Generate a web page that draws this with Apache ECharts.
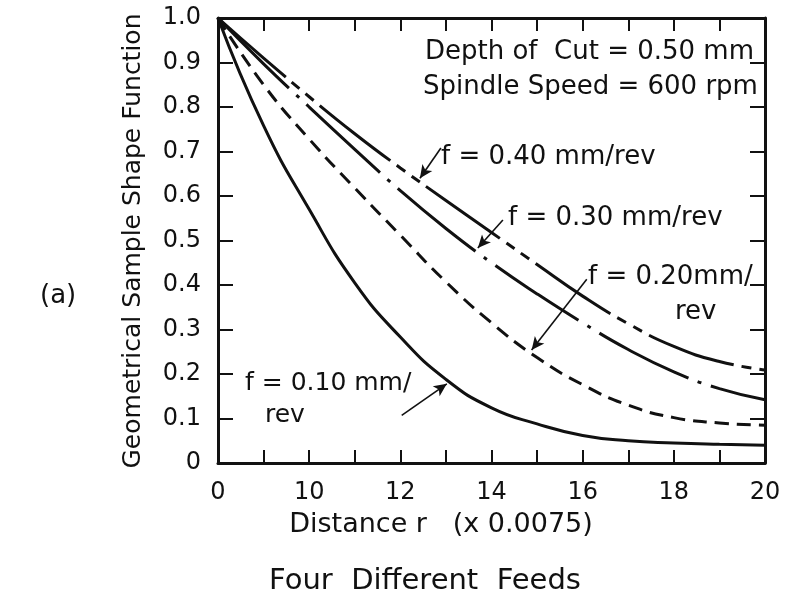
<!DOCTYPE html>
<html>
<head>
<meta charset="utf-8">
<script src="https://cdn.jsdelivr.net/npm/echarts@6/dist/echarts.min.js"></script>
<style>
  html, body { margin: 0; padding: 0; background: #fff; }
  #chart { width: 789px; height: 599px; }
</style>
</head>
<body>
<div id="chart"></div>
<script>
// x positions in tick units (one unit per tick on the axis)
var xPts = [0, 1, 2, 3, 4, 5, 6, 7, 8, 9, 10, 11, 12];
var xTickLabels = ['0', '', '10', '', '12', '', '14', '', '16', '', '18', '', '20'];
var yTickLabels = ['0', '0.1', '0.2', '0.3', '0.4', '0.5', '0.6', '0.7', '0.8', '0.9', '1.0'];

var f10 = [1.0, 0.758, 0.57, 0.405, 0.283, 0.188, 0.124, 0.088, 0.062, 0.05, 0.045, 0.042, 0.04];
var f20 = [1.0, 0.85, 0.728, 0.618, 0.512, 0.407, 0.315, 0.237, 0.176, 0.13, 0.102, 0.09, 0.085];
var f30 = [1.0, 0.897, 0.80, 0.705, 0.612, 0.527, 0.45, 0.38, 0.315, 0.255, 0.205, 0.167, 0.142];
var f40 = [1.0, 0.91, 0.823, 0.74, 0.663, 0.59, 0.518, 0.446, 0.375, 0.313, 0.262, 0.228, 0.209];

// arrows from the labels to the curves, [from, to] in data coords
var arrow40 = [[4.89, 0.708], [4.43, 0.64]];
var arrow30 = [[6.25, 0.546], [5.70, 0.483]];
var arrow20 = [[8.09, 0.413], [6.88, 0.254]];
var arrow10 = [[4.03, 0.107], [5.02, 0.178]];

var FONT = 'DejaVu Sans';
var ink = '#111';

function pairs(ys) {
  return xPts.map(function (x, i) { return [x, ys[i]]; });
}

function arrowLine(a, curve) {
  return {
    silent: true,
    symbol: ['none', 'arrow'],
    symbolSize: [9, 13],
    label: { show: false },
    lineStyle: { color: ink, width: 1.6, type: 'solid', curveness: curve || 0 },
    data: [[{ coord: a[0] }, { coord: a[1] }]]
  };
}

function curve(name, ys, type, arrow, curveness) {
  return {
    name: name,
    type: 'line',
    smooth: 0.5,
    showSymbol: false,
    silent: true,
    data: pairs(ys),
    lineStyle: { color: ink, width: 3, type: type, cap: 'butt' },
    markLine: arrowLine(arrow, curveness)
  };
}

function txt(text, x, y, size, align) {
  return {
    type: 'text',
    x: x, y: y,
    style: {
      text: text, fill: ink,
      font: (size || 26) + 'px "' + FONT + '"',
      textAlign: align || 'left',
      textVerticalAlign: 'middle'
    }
  };
}

var chart = echarts.init(document.getElementById('chart'));

var axisCommon = {
  type: 'value',
  axisLine: { show: true, onZero: false, lineStyle: { color: ink, width: 3 } },
  axisTick: { show: true, inside: true, length: 13, lineStyle: { color: ink, width: 2 } },
  splitLine: { show: false }
};

chart.setOption({
  animation: false,
  backgroundColor: '#fff',
  grid: { left: 218, right: 24, top: 18, bottom: 136 },
  xAxis: [
    Object.assign({}, axisCommon, {
      min: 0, max: 12, interval: 1, position: 'bottom',
      axisLabel: {
        color: ink, fontFamily: FONT, fontSize: 24, margin: 18,
        formatter: function (v) { return xTickLabels[Math.round(v)]; }
      }
    }),
    Object.assign({}, axisCommon, {
      min: 0, max: 12, interval: 1, position: 'top',
      axisLabel: { show: false }
    })
  ],
  yAxis: [
    Object.assign({}, axisCommon, {
      min: 0, max: 1, interval: 0.1, position: 'left',
      axisTick: { show: true, inside: true, length: 15, lineStyle: { color: ink, width: 2 } },
      axisLabel: {
        color: ink, fontFamily: FONT, fontSize: 24, margin: 17,
        formatter: function (v) { return yTickLabels[Math.round(v * 10)]; }
      }
    }),
    Object.assign({}, axisCommon, {
      min: 0, max: 1, interval: 0.1, position: 'right',
      axisTick: { show: true, inside: true, length: 15, lineStyle: { color: ink, width: 2 } },
      axisLabel: { show: false }
    })
  ],
  series: [
    curve('f = 0.10 mm/rev', f10, 'solid', arrow10, -0.3),
    curve('f = 0.20 mm/rev', f20, [14, 8], arrow20),
    curve('f = 0.30 mm/rev', f30, [100, 10, 4, 10], arrow30),
    curve('f = 0.40 mm/rev', f40, [90, 8, 10, 8, 10, 8], arrow40, 0.3)
  ],
  graphic: [
    txt('Depth of  Cut = 0.50 mm', 425, 52),
    txt('Spindle Speed = 600 rpm', 423, 87),
    txt('f = 0.40 mm/rev', 441, 157),
    txt('f = 0.30 mm/rev', 508, 218),
    txt('f = 0.20mm/', 588, 277),
    txt('rev', 675, 312),
    txt('f = 0.10 mm/', 245, 383, 25),
    txt('rev', 265, 415, 25),
    txt('(a)', 40, 296, 26),
    txt('Distance r   (x 0.0075)', 441, 525, 27, 'center'),
    txt('Four  Different  Feeds', 425, 581, 29, 'center'),
    {
      type: 'text', x: 133, y: 241, rotation: Math.PI / 2,
      style: {
        text: 'Geometrical Sample Shape Function', fill: ink,
        font: '25px "' + FONT + '"', textAlign: 'center', textVerticalAlign: 'middle'
      }
    }
  ]
});
</script>
</body>
</html>
